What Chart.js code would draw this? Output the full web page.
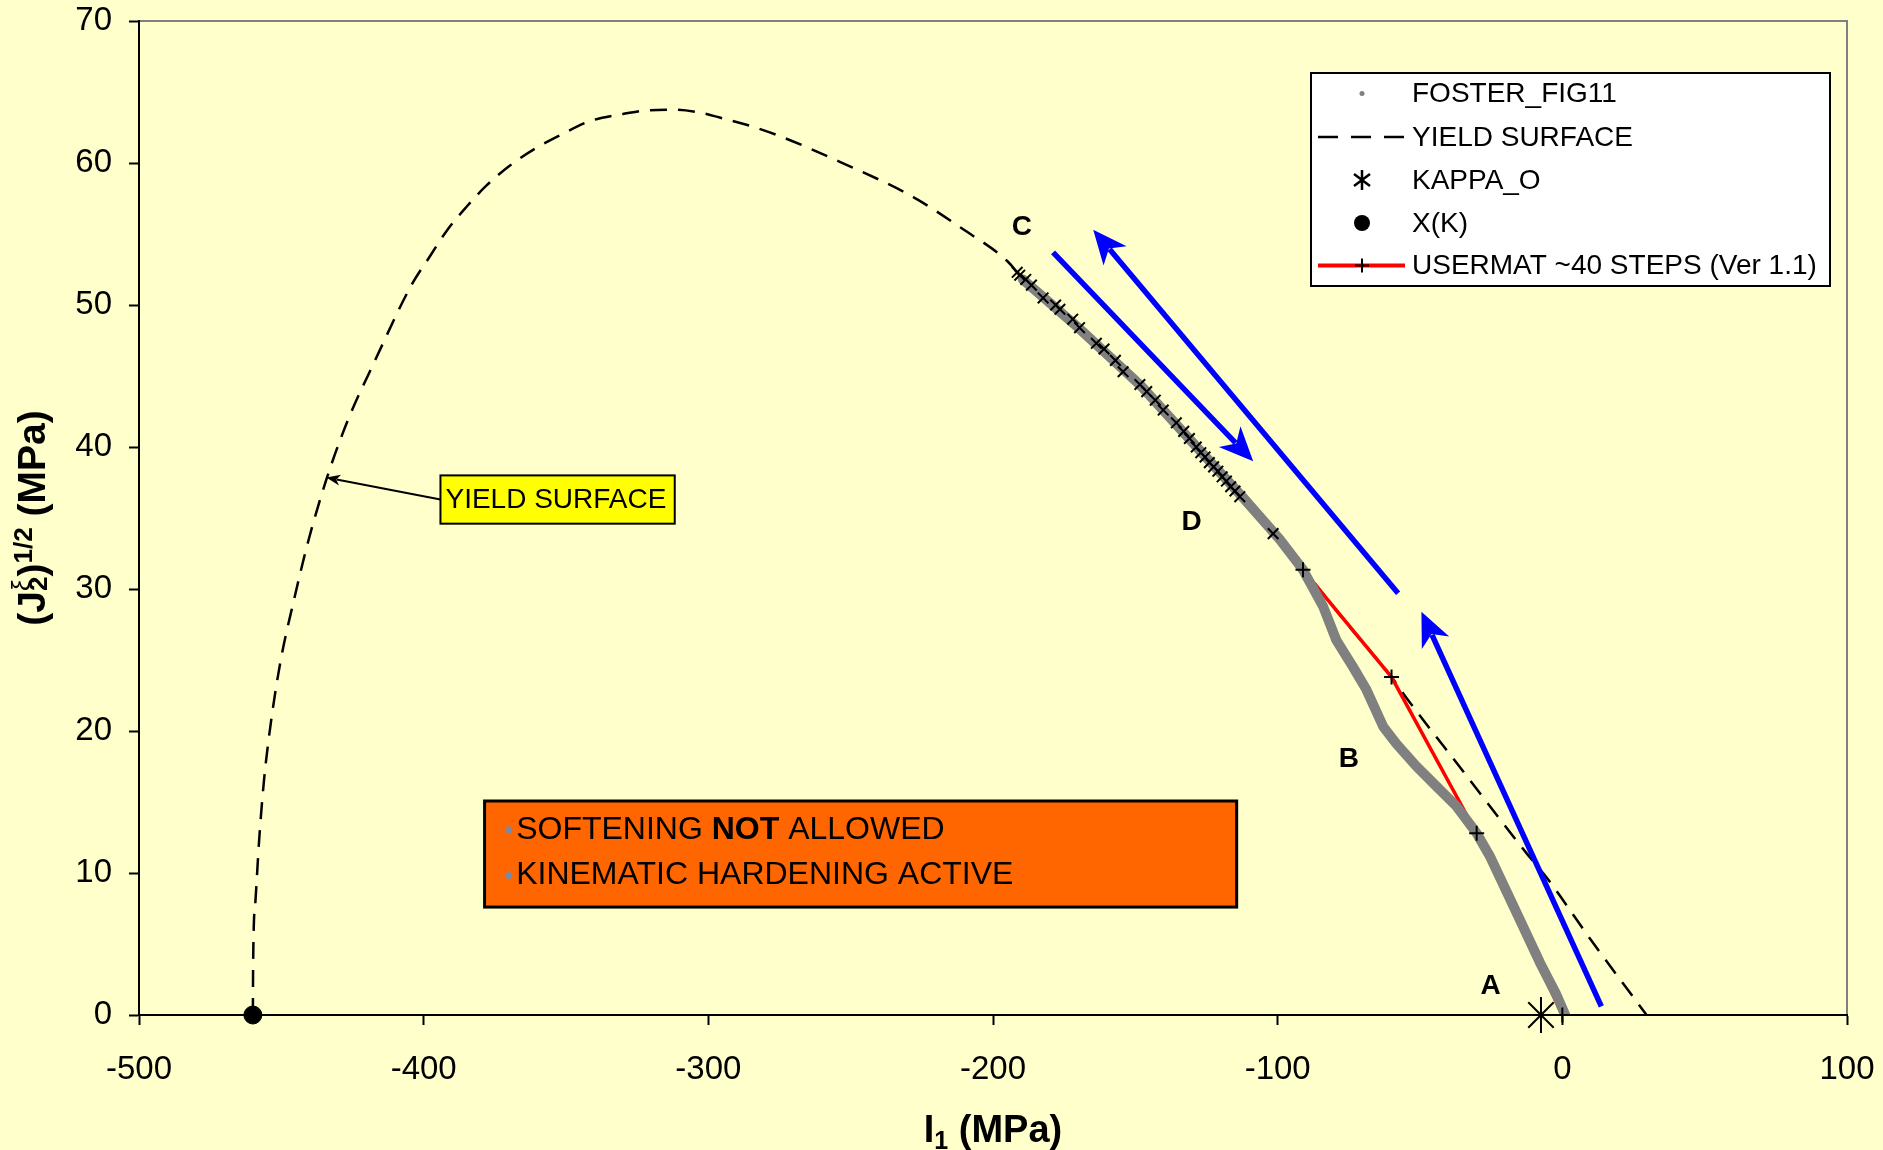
<!DOCTYPE html>
<html>
<head>
<meta charset="utf-8">
<title>Yield surface - USERMAT vs Foster Fig 11</title>
<script src="https://cdn.jsdelivr.net/npm/chart.js@4.4.0/dist/chart.umd.min.js"></script>
<style>
  html, body { margin: 0; padding: 0; background: #FFFFCC; }
  #wrap { width: 1883px; height: 1150px; }
</style>
</head>
<body>
<div id="wrap"><canvas id="chart" width="1883" height="1150"></canvas></div>
<script>
// ---- data (I1 in MPa, sqrt(J2) in MPa) ----
const xTicks = [-500, -400, -300, -200, -100, 0, 100];
const yTicks = [0, 10, 20, 30, 40, 50, 60, 70];

const yieldI1 = [-460, -459.9, -459.1, -457.8, -456.1, -453.6, -450.2, -445.6, -440.5, -434.2, -426.6, -417.3,
  -404.3, -397.9, -392, -385, -378, -369.8, -361, -351.6, -342.3, -330, -322, -312, -303, -296, -285,
  -275, -254, -228, -211, -195, -191, -170, -148, -120, -100, -91, -75, -60, -55, -35, -12.6, -5.6, 10, 29.6];
const yieldJ = [0, 3.8, 8.0, 12.3, 16.5, 20.7, 25.0, 29.2, 33.4, 37.7, 41.9, 46.0,
  51.4, 53.4, 55.2, 56.9, 58.4, 59.8, 61.0, 62.0, 62.9, 63.45, 63.7, 63.75, 63.55, 63.2, 62.6,
  61.9, 60.1, 57.6, 55.4, 53.1, 52.2, 48.3, 44.3, 38.2, 33.6, 31.4, 27.4, 23.8, 22.4, 17.2, 11.4, 9.7, 5.3, 0];

const fosterI1 = [1, -2, -7.9, -14.9, -25.5, -30.1, -37.2, -44.2, -51.2, -58.3, -62.9, -68.8, -73.5,
  -79.4, -84.1, -91.1, -99.3, -112, -128, -148, -170, -189.5];
const fosterJ = [0, 1.4, 3.7, 6.7, 11.2, 12.8, 14.7, 16.1, 17.5, 19.1, 20.3, 22.9, 24.5,
  26.4, 28.8, 31.35, 33.5, 36.4, 39.9, 44.3, 48.4, 51.8];

const usermatI1 = [0, -30.1, -60, -91.1, -101.6, -113.3, -115, -116.5, -118, -119.5, -121, -122.5, -124,
  -125.5, -127, -128.6, -131, -133, -135.6, -140.2, -143, -146, -148.4, -154.3, -157, -161, -163.7,
  -169.6, -172, -176.5, -178, -182.4, -186.5, -188.5, -190.6, -191.5];
const usermatJ = [0, 12.8, 23.8, 31.35, 33.9, 36.5, 36.9, 37.2, 37.6, 37.9, 38.3, 38.6, 38.9,
  39.3, 39.6, 40.0, 40.6, 41.1, 41.7, 42.6, 43.3, 43.9, 44.4, 45.3, 46.1, 46.9, 47.3,
  48.4, 49.0, 49.7, 50.0, 50.5, 51.4, 51.8, 52.1, 52.3];

const kappaI1 = [-7.5];
const kappaJ = [0];
const xkI1 = [-460];
const xkJ = [0];

const legendLabels = ['FOSTER_FIG11', 'YIELD SURFACE', 'KAPPA_O', 'X(K)', 'USERMAT ~40 STEPS (Ver 1.1)'];

// ---- annotations (in data units) ----
const pointLabels = [
  { t: 'C', x: -189.9, y: 55.5 },
  { t: 'D', x: -130.2, y: 34.7 },
  { t: 'B', x: -75.0, y: 18.0 },
  { t: 'A', x: -25.2, y: 2.0 }
];
const blueArrows = [
  { x1: -178.9, y1: 53.7, x2: -108.6, y2: 39.0 },
  { x1: -57.7, y1: 29.7, x2: -164.8, y2: 55.3 },
  { x1: 13.7, y1: 0.6, x2: -49.5, y2: 28.4 }
];
const callout = { text: 'YIELD SURFACE', left: -394.1, right: -311.8, top: 38.0, bottom: 34.6, tipX: -434.2, tipY: 37.85 };
const noteBox = { left: -378.6, right: -114.4, top: 15.07, bottom: 7.6, textX: -367.5, bulletX: -370.1, line1Y: 13.04, line2Y: 9.82 };

const FONT = "'Liberation Sans', Arial, sans-serif";
const pts = (xs, ys) => xs.map((x, i) => ({ x, y: ys[i] }));

function arrowHead(ctx, x1, y1, x2, y2, len, width) {
  const ang = Math.atan2(y2 - y1, x2 - x1);
  ctx.save();
  ctx.translate(x2, y2);
  ctx.rotate(ang);
  ctx.beginPath();
  ctx.moveTo(0, 0);
  ctx.lineTo(-len, -width / 2);
  ctx.lineTo(-len * 0.72, 0);
  ctx.lineTo(-len, width / 2);
  ctx.closePath();
  ctx.fill();
  ctx.restore();
}

function drawArrow(ctx, x1, y1, x2, y2, lw, color, len, width) {
  const ang = Math.atan2(y2 - y1, x2 - x1);
  const bx = x2 - Math.cos(ang) * len * 0.75;
  const by = y2 - Math.sin(ang) * len * 0.75;
  ctx.save();
  ctx.strokeStyle = color;
  ctx.fillStyle = color;
  ctx.lineWidth = lw;
  ctx.beginPath();
  ctx.moveTo(x1, y1);
  ctx.lineTo(bx, by);
  ctx.stroke();
  arrowHead(ctx, x1, y1, x2, y2, len, width);
  ctx.restore();
}

// draws text runs [{t, font, dy}] centred on x, baseline y
function drawRuns(ctx, runs, cx, y) {
  let total = 0;
  runs.forEach(r => {
    ctx.font = r.font;
    r.w = r.stack ? Math.max(...r.stack.map(s => { ctx.font = s.font; return ctx.measureText(s.t).width; })) : ctx.measureText(r.t).width;
    total += r.w;
  });
  let x = cx - total / 2;
  ctx.textAlign = 'left';
  ctx.textBaseline = 'alphabetic';
  runs.forEach(r => {
    if (r.stack) {
      r.stack.forEach(s => { ctx.font = s.font; ctx.fillText(s.t, x, y + s.dy); });
    } else {
      ctx.font = r.font;
      ctx.fillText(r.t, x, y + r.dy);
    }
    x += r.w;
  });
}

const decorPlugin = {
  id: 'decor',
  beforeDraw(chart) {
    const { ctx, chartArea: a } = chart;
    ctx.save();
    ctx.fillStyle = '#FFFFCC';
    ctx.fillRect(0, 0, chart.width, chart.height);
    ctx.strokeStyle = '#808080';
    ctx.lineWidth = 2;
    ctx.beginPath();
    ctx.moveTo(a.left, a.top);
    ctx.lineTo(a.right, a.top);
    ctx.lineTo(a.right, a.bottom);
    ctx.stroke();
    ctx.restore();
  },
  afterDraw(chart) {
    const { ctx, chartArea: a } = chart;
    const sx = chart.scales.x, sy = chart.scales.y;
    const px = v => sx.getPixelForValue(v);
    const py = v => sy.getPixelForValue(v);
    ctx.save();

    // blue arrows
    blueArrows.forEach(b => drawArrow(ctx, px(b.x1), py(b.y1), px(b.x2), py(b.y2), 5.5, '#0000FF', 34, 30));

    // point letters
    ctx.fillStyle = '#000';
    ctx.font = 'bold 28px ' + FONT;
    ctx.textAlign = 'center';
    ctx.textBaseline = 'middle';
    pointLabels.forEach(l => ctx.fillText(l.t, px(l.x), py(l.y)));

    // yield surface callout
    const cl = px(callout.left), cr = px(callout.right), ct = py(callout.top), cb = py(callout.bottom);
    drawArrow(ctx, cl, (ct + cb) / 2, px(callout.tipX), py(callout.tipY), 2, '#000', 14, 11);
    ctx.fillStyle = '#FFFF00';
    ctx.fillRect(cl, ct, cr - cl, cb - ct);
    ctx.strokeStyle = '#000';
    ctx.lineWidth = 2;
    ctx.strokeRect(cl, ct, cr - cl, cb - ct);
    ctx.fillStyle = '#000';
    ctx.font = '28px ' + FONT;
    ctx.textAlign = 'left';
    ctx.textBaseline = 'middle';
    ctx.fillText(callout.text, cl + 5, (ct + cb) / 2 + 1);

    // orange note box
    const nl = px(noteBox.left), nr = px(noteBox.right), nt = py(noteBox.top), nb = py(noteBox.bottom);
    ctx.fillStyle = '#FF6600';
    ctx.fillRect(nl, nt, nr - nl, nb - nt);
    ctx.strokeStyle = '#000';
    ctx.lineWidth = 3;
    ctx.strokeRect(nl, nt, nr - nl, nb - nt);
    ctx.fillStyle = '#7F8A9E';
    [noteBox.line1Y, noteBox.line2Y].forEach(v => {
      ctx.beginPath();
      ctx.arc(px(noteBox.bulletX), py(v), 3.5, 0, Math.PI * 2);
      ctx.fill();
    });
    ctx.fillStyle = '#000';
    ctx.textBaseline = 'middle';
    let tx = px(noteBox.textX);
    const l1 = py(noteBox.line1Y);
    [['SOFTENING ', '32px '], ['NOT', 'bold 32px '], [' ALLOWED', '32px ']].forEach(([t, f]) => {
      ctx.font = f + FONT;
      ctx.fillText(t, tx, l1);
      tx += ctx.measureText(t).width;
    });
    ctx.font = '32px ' + FONT;
    ctx.fillText('KINEMATIC HARDENING ACTIVE', px(noteBox.textX), py(noteBox.line2Y));

    // axis titles
    ctx.fillStyle = '#000';
    drawRuns(ctx, [
      { t: 'I', font: 'bold 38px ' + FONT, dy: 0 },
      { t: '1', font: 'bold 25px ' + FONT, dy: 7 },
      { t: ' (MPa)', font: 'bold 38px ' + FONT, dy: 0 }
    ], (a.left + a.right) / 2, 1142);

    ctx.save();
    ctx.translate(45, (a.top + a.bottom) / 2);
    ctx.rotate(-Math.PI / 2);
    drawRuns(ctx, [
      { t: '(J', font: 'bold 39px ' + FONT, dy: 0 },
      { stack: [
        { t: '2', font: 'bold 26px ' + FONT, dy: 2 },
        { t: '\u03BE', font: '26px ' + FONT, dy: -15 }
      ] },
      { t: ')', font: 'bold 39px ' + FONT, dy: 0 },
      { t: '1/2', font: 'bold 26px ' + FONT, dy: -13 },
      { t: ' (MPa)', font: 'bold 39px ' + FONT, dy: 0 }
    ], 0, 0);
    ctx.restore();

    // legend
    const L = { x: 1311, y: 73, w: 519, h: 213, sym: 1362, lineL: 1318, lineR: 1405, text: 1412, rows: [93.5, 137, 180, 223, 265.5] };
    ctx.fillStyle = '#FFFFFF';
    ctx.fillRect(L.x, L.y, L.w, L.h);
    ctx.strokeStyle = '#000';
    ctx.lineWidth = 2;
    ctx.strokeRect(L.x, L.y, L.w, L.h);
    // foster dot
    ctx.fillStyle = '#808080';
    ctx.beginPath(); ctx.arc(L.sym, L.rows[0], 2.5, 0, Math.PI * 2); ctx.fill();
    // yield dashes
    ctx.strokeStyle = '#000';
    ctx.lineWidth = 2.5;
    ctx.setLineDash([20, 13]);
    ctx.beginPath(); ctx.moveTo(L.lineL, L.rows[1]); ctx.lineTo(L.lineR, L.rows[1]); ctx.stroke();
    ctx.setLineDash([]);
    // kappa asterisk
    ctx.lineWidth = 2.5;
    const r = 10, y2 = L.rows[2];
    ctx.beginPath();
    ctx.moveTo(L.sym, y2 - r); ctx.lineTo(L.sym, y2 + r);
    ctx.moveTo(L.sym - r * 0.8, y2 - r * 0.6); ctx.lineTo(L.sym + r * 0.8, y2 + r * 0.6);
    ctx.moveTo(L.sym - r * 0.8, y2 + r * 0.6); ctx.lineTo(L.sym + r * 0.8, y2 - r * 0.6);
    ctx.stroke();
    // X(K) dot
    ctx.fillStyle = '#000';
    ctx.beginPath(); ctx.arc(L.sym, L.rows[3], 8, 0, Math.PI * 2); ctx.fill();
    // usermat line with +
    ctx.strokeStyle = '#FF0000';
    ctx.lineWidth = 4;
    ctx.beginPath(); ctx.moveTo(L.lineL, L.rows[4]); ctx.lineTo(L.lineR, L.rows[4]); ctx.stroke();
    ctx.strokeStyle = '#000';
    ctx.lineWidth = 2;
    ctx.beginPath();
    ctx.moveTo(L.sym - 7, L.rows[4]); ctx.lineTo(L.sym + 7, L.rows[4]);
    ctx.moveTo(L.sym, L.rows[4] - 7); ctx.lineTo(L.sym, L.rows[4] + 7);
    ctx.stroke();
    // legend texts
    ctx.fillStyle = '#000';
    ctx.font = '28px ' + FONT;
    ctx.textAlign = 'left';
    ctx.textBaseline = 'middle';
    legendLabels.forEach((t, i) => ctx.fillText(t, L.text, L.rows[i] + 1));

    ctx.restore();
  }
};

Chart.defaults.font.family = FONT;
Chart.defaults.color = '#000';

new Chart(document.getElementById('chart'), {
  type: 'scatter',
  data: {
    datasets: [
      {
        label: legendLabels[4] + ' markers',
        data: pts(usermatI1, usermatJ),
        showLine: false,
        pointStyle: c => (c.raw && c.raw.y > 32 ? 'crossRot' : 'cross'),
        pointRadius: 7.5,
        pointBorderColor: '#000',
        pointBorderWidth: 2,
        clip: false,
        order: 0
      },
      {
        label: legendLabels[3],
        data: pts(xkI1, xkJ),
        showLine: false,
        pointStyle: 'circle',
        pointRadius: 9,
        pointBackgroundColor: '#000',
        pointBorderColor: '#000',
        clip: false,
        order: 1
      },
      {
        label: legendLabels[2],
        data: pts(kappaI1, kappaJ),
        showLine: false,
        pointStyle: 'star',
        pointRadius: 18,
        pointBorderColor: '#000',
        pointBorderWidth: 2,
        clip: false,
        order: 2
      },
      {
        label: legendLabels[0],
        data: pts(fosterI1, fosterJ),
        showLine: true,
        borderColor: '#808080',
        borderWidth: 10,
        borderCapStyle: 'round',
        borderJoinStyle: 'round',
        pointRadius: 0,
        order: 3
      },
      {
        label: legendLabels[4],
        data: pts(usermatI1, usermatJ),
        showLine: true,
        borderColor: '#FF0000',
        borderWidth: 3.5,
        pointRadius: 0,
        order: 4
      },
      {
        label: legendLabels[1],
        data: pts(yieldI1, yieldJ),
        showLine: true,
        borderColor: '#000',
        borderWidth: 2.5,
        borderDash: [17, 11],
        cubicInterpolationMode: 'monotone',
        pointRadius: 0,
        order: 5
      }
    ]
  },
  options: {
    responsive: false,
    animation: false,
    events: [],
    layout: { padding: { top: 21, right: 36, left: 0, bottom: 0 } },
    plugins: {
      legend: { display: false },
      tooltip: { enabled: false }
    },
    scales: {
      x: {
        type: 'linear',
        min: -500,
        max: 100,
        afterBuildTicks: s => { s.ticks = xTicks.map(v => ({ value: v })); },
        afterFit: s => { s.height = 135; s.paddingLeft = 0; s.paddingRight = 0; },
        ticks: { font: { size: 33 }, color: '#000', padding: 25, autoSkip: false, maxRotation: 0 },
        grid: { drawOnChartArea: false, drawTicks: true, tickLength: 10, tickColor: '#000', tickWidth: 2 },
        border: { color: '#000', width: 2 }
      },
      y: {
        type: 'linear',
        min: 0,
        max: 70,
        afterBuildTicks: s => { s.ticks = yTicks.map(v => ({ value: v })); },
        afterFit: s => { s.width = 139; s.paddingTop = 0; s.paddingBottom = 0; },
        ticks: { font: { size: 33 }, color: '#000', padding: 17, autoSkip: false },
        grid: { drawOnChartArea: false, drawTicks: true, tickLength: 10, tickColor: '#000', tickWidth: 2 },
        border: { color: '#000', width: 2 }
      }
    }
  },
  plugins: [decorPlugin]
});
</script>
</body>
</html>
